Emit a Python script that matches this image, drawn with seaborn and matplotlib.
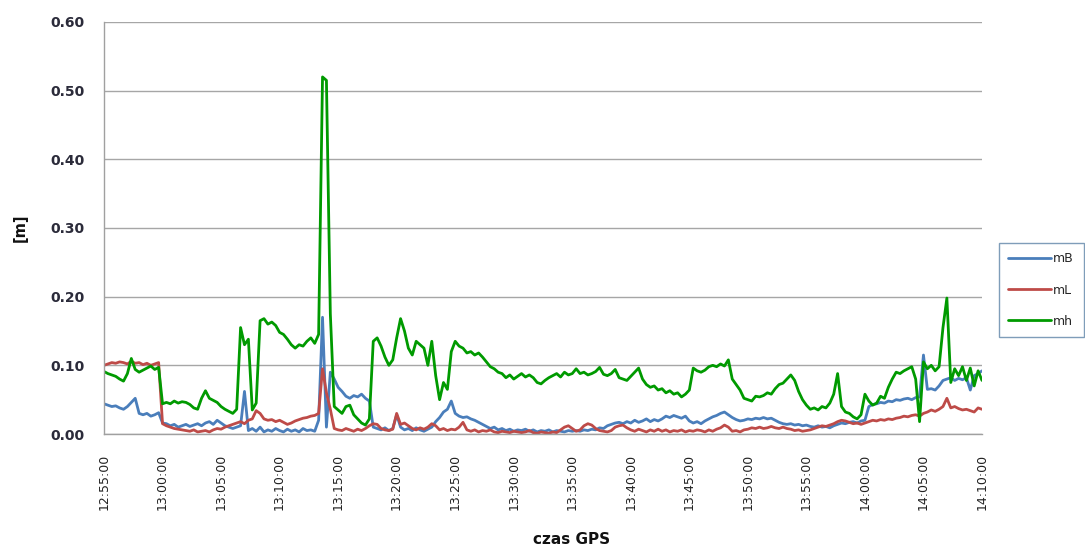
import numpy as np
import pandas as pd
import matplotlib
matplotlib.use("Agg")
import matplotlib.pyplot as plt
import seaborn as sns

# Accuracy estimates [m], one sample every 20 s from 12:55:00 to 14:10:00
mB = [
    0.044, 0.042, 0.040, 0.041, 0.038, 0.036, 0.040, 0.046, 0.052, 0.030, 0.028, 0.030,
    0.026, 0.028, 0.031, 0.016, 0.015, 0.012, 0.014, 0.010, 0.012, 0.014, 0.011, 0.013,
    0.015, 0.012, 0.016, 0.018, 0.014, 0.020, 0.016, 0.012, 0.010, 0.008, 0.010, 0.012,
    0.062, 0.005, 0.008, 0.004, 0.010, 0.003, 0.006, 0.004, 0.008, 0.005, 0.003, 0.007,
    0.004, 0.006, 0.003, 0.008, 0.005, 0.006, 0.004, 0.020, 0.170, 0.010, 0.090, 0.080,
    0.068, 0.062, 0.055, 0.052, 0.056, 0.054, 0.058, 0.052, 0.048, 0.010, 0.008, 0.006,
    0.009, 0.005, 0.008, 0.028, 0.010, 0.006, 0.008, 0.005, 0.009, 0.006, 0.004, 0.007,
    0.010, 0.018, 0.024, 0.032, 0.036, 0.048, 0.030, 0.026, 0.024, 0.025, 0.022, 0.020,
    0.017, 0.014, 0.011, 0.008, 0.010, 0.006, 0.008, 0.005, 0.007, 0.004, 0.006, 0.005,
    0.007, 0.004, 0.006, 0.003, 0.005, 0.004, 0.006, 0.003, 0.005, 0.004, 0.003, 0.005,
    0.004, 0.005, 0.004, 0.006, 0.005, 0.007, 0.006, 0.009, 0.008, 0.012, 0.014, 0.016,
    0.017, 0.015, 0.018, 0.016, 0.020, 0.017, 0.019, 0.022, 0.018, 0.021, 0.019, 0.022,
    0.026, 0.024, 0.027, 0.025, 0.023, 0.026, 0.019, 0.016, 0.018, 0.015, 0.019, 0.022,
    0.025, 0.027, 0.030, 0.032, 0.028, 0.024, 0.021, 0.019, 0.020, 0.022, 0.021, 0.023,
    0.022, 0.024, 0.022, 0.023, 0.020, 0.017, 0.015, 0.014, 0.015, 0.013, 0.014, 0.012,
    0.013, 0.011, 0.010, 0.012, 0.010, 0.011, 0.009, 0.012, 0.014, 0.016, 0.015, 0.017,
    0.018, 0.016, 0.019, 0.020, 0.040, 0.043, 0.044, 0.046, 0.045, 0.048, 0.047, 0.050,
    0.049, 0.051, 0.052, 0.050, 0.053, 0.054, 0.115, 0.065, 0.066, 0.064, 0.070, 0.078,
    0.080, 0.082, 0.078, 0.081, 0.079, 0.082, 0.064, 0.085, 0.088, 0.092,
]

mL = [
    0.100, 0.102, 0.104, 0.103, 0.105, 0.104, 0.102, 0.106, 0.103, 0.104, 0.101, 0.103,
    0.100, 0.102, 0.104, 0.015, 0.012, 0.010, 0.008, 0.007, 0.006, 0.005, 0.004, 0.006,
    0.003, 0.004, 0.005, 0.003, 0.006, 0.008, 0.007, 0.010, 0.012, 0.014, 0.016, 0.018,
    0.015, 0.020, 0.022, 0.034, 0.030, 0.022, 0.020, 0.021, 0.018, 0.020, 0.017, 0.014,
    0.016, 0.019, 0.021, 0.023, 0.024, 0.026, 0.027, 0.030, 0.095, 0.060, 0.036, 0.008,
    0.006, 0.005, 0.008, 0.006, 0.004, 0.007, 0.005, 0.008, 0.012, 0.015, 0.014, 0.008,
    0.006, 0.005, 0.007, 0.030, 0.014, 0.016, 0.012, 0.008, 0.006, 0.009, 0.007, 0.010,
    0.015, 0.012, 0.006, 0.008, 0.005, 0.007, 0.006, 0.010, 0.017, 0.006, 0.004, 0.006,
    0.003, 0.005, 0.004, 0.006, 0.003, 0.002, 0.004, 0.003, 0.002, 0.004, 0.003, 0.002,
    0.003, 0.005, 0.002, 0.001, 0.003, 0.002, 0.001, 0.003, 0.002, 0.006, 0.010, 0.012,
    0.008, 0.004, 0.006, 0.012, 0.015, 0.013, 0.008, 0.005, 0.004, 0.003, 0.005, 0.010,
    0.012, 0.013, 0.009, 0.006, 0.004, 0.007, 0.005, 0.003, 0.006, 0.004, 0.007, 0.004,
    0.006, 0.003, 0.005, 0.004, 0.006, 0.003, 0.005, 0.004, 0.006, 0.005, 0.003, 0.006,
    0.004, 0.007, 0.009, 0.013, 0.010, 0.004, 0.005, 0.003, 0.006, 0.007, 0.009, 0.008,
    0.010, 0.008, 0.009, 0.011, 0.009, 0.008, 0.010, 0.008, 0.007, 0.005, 0.006, 0.004,
    0.005, 0.006, 0.008, 0.010, 0.012, 0.011, 0.013, 0.015, 0.018, 0.020, 0.019, 0.017,
    0.015, 0.016, 0.014, 0.016, 0.018, 0.020, 0.019, 0.021, 0.020, 0.022, 0.021, 0.023,
    0.024, 0.026, 0.025, 0.027, 0.028, 0.026, 0.030, 0.032, 0.035, 0.033, 0.036, 0.040,
    0.052, 0.038, 0.040, 0.037, 0.035, 0.036, 0.034, 0.032, 0.038, 0.036,
]

mh = [
    0.091, 0.088, 0.086, 0.084, 0.080, 0.077, 0.088, 0.110, 0.094, 0.090, 0.093, 0.096,
    0.099, 0.094, 0.097, 0.044, 0.046, 0.044, 0.048, 0.045, 0.047, 0.046, 0.043, 0.038,
    0.036, 0.052, 0.063, 0.052, 0.049, 0.046, 0.040, 0.036, 0.033, 0.030, 0.036, 0.155,
    0.130, 0.138, 0.035, 0.045, 0.165, 0.168, 0.160, 0.163, 0.158, 0.148, 0.145, 0.138,
    0.130, 0.125, 0.130, 0.128, 0.135, 0.140, 0.132, 0.145, 0.520, 0.515, 0.175, 0.040,
    0.035, 0.030, 0.040, 0.042, 0.028, 0.022, 0.016, 0.013, 0.022, 0.135, 0.140, 0.128,
    0.112, 0.100, 0.108, 0.140, 0.168, 0.150, 0.125, 0.115, 0.135, 0.130, 0.125, 0.100,
    0.135, 0.085, 0.050, 0.075, 0.065, 0.120, 0.135, 0.128, 0.125, 0.118, 0.120, 0.115,
    0.118, 0.112, 0.105, 0.098, 0.095, 0.090, 0.088, 0.082, 0.086, 0.080, 0.084, 0.088,
    0.083, 0.086, 0.082, 0.075, 0.073, 0.078, 0.082, 0.085, 0.088, 0.083, 0.090, 0.086,
    0.088, 0.095, 0.088, 0.090, 0.086, 0.088, 0.091, 0.097, 0.087, 0.085, 0.088, 0.094,
    0.082, 0.080, 0.078, 0.084, 0.090, 0.096, 0.080, 0.072, 0.068, 0.070, 0.064, 0.066,
    0.060, 0.063, 0.058, 0.060, 0.054, 0.058, 0.064, 0.096, 0.092, 0.090, 0.093, 0.098,
    0.100, 0.098, 0.102, 0.099, 0.108, 0.080, 0.072, 0.064, 0.052, 0.050, 0.048, 0.055,
    0.054, 0.056, 0.060, 0.058, 0.066, 0.072, 0.074, 0.080, 0.086, 0.078, 0.062, 0.050,
    0.042, 0.036, 0.038, 0.035, 0.040, 0.038, 0.045, 0.058, 0.088, 0.040, 0.032, 0.030,
    0.025, 0.022, 0.028, 0.058, 0.048, 0.042, 0.045, 0.055, 0.052, 0.068, 0.080, 0.090,
    0.088, 0.092, 0.095, 0.098, 0.080, 0.018, 0.105, 0.095, 0.100, 0.092, 0.098, 0.155,
    0.198, 0.075, 0.095, 0.085, 0.098, 0.078, 0.096, 0.070, 0.092, 0.078,
]

series_names = ["mB", "mL", "mh"]
series_colors = ["#4A7EBB", "#BE4B48", "#009A00"]

tick_minutes = list(range(0, 76, 5))
tick_labels = [
    "12:55:00", "13:00:00", "13:05:00", "13:10:00", "13:15:00", "13:20:00",
    "13:25:00", "13:30:00", "13:35:00", "13:40:00", "13:45:00", "13:50:00",
    "13:55:00", "14:00:00", "14:05:00", "14:10:00",
]
y_ticks = [0.0, 0.1, 0.2, 0.3, 0.4, 0.5, 0.6]

# minutes after 12:55:00 (20 s sampling step)
minutes = np.arange(len(mh)) / 3.0

df = pd.DataFrame({
    "t": np.concatenate([minutes] * 3),
    "value": mB + mL + mh,
    "series": np.repeat(series_names, len(minutes)),
})

sns.set_theme(style="white")
plt.rcParams["font.family"] = ["DejaVu Sans"]

W, H = 1085, 550
fig = plt.figure(figsize=(W / 100, H / 100), dpi=100)
ax = fig.add_axes([104 / W, 1 - 434 / H, 878 / W, 412 / H])

sns.lineplot(
    data=df, x="t", y="value", hue="series", hue_order=series_names,
    palette=dict(zip(series_names, series_colors)), estimator=None,
    linewidth=2.0, ax=ax, legend=True,
)

ax.set_xlim(0, 75)
ax.set_ylim(0, 0.6)
ax.set_xticks(tick_minutes)
ax.set_xticklabels(tick_labels, rotation=90, fontsize=9, color="#222222")
ax.set_yticks(y_ticks)
ax.set_yticklabels([f"{v:.2f}" for v in y_ticks], fontsize=10,
                   fontweight="bold", color="#2b2b3a")
ax.tick_params(axis="both", length=0)
ax.tick_params(axis="x", pad=14)
ax.tick_params(axis="y", pad=14)

ax.yaxis.grid(True, color="#A6A6A6", linewidth=1.0)
ax.xaxis.grid(False)
ax.set_axisbelow(True)
for side in ("top", "right"):
    ax.spines[side].set_visible(False)
for side in ("left", "bottom"):
    ax.spines[side].set_color("#A0A0A0")
    ax.spines[side].set_linewidth(1.0)

ax.set_xlabel("")
ax.set_ylabel("")
fig.text(20 / W, 1 - 228 / H, "[m]", rotation=90, fontsize=10.5,
         fontweight="bold", ha="center", va="center", color="#111111")
fig.text(572 / W, 1 - 540 / H, "czas GPS", fontsize=11,
         fontweight="bold", ha="center", va="center", color="#111111")

sns.move_legend(
    ax, "upper left", bbox_to_anchor=(999 / W, 1 - 243 / H),
    bbox_transform=fig.transFigure, title=None, frameon=True,
    fancybox=False, edgecolor="#7F9DB9", fontsize=9,
    handlelength=3.4, handletextpad=0.2, labelspacing=1.45, borderpad=0.75,
    borderaxespad=0.0,
)
leg = ax.get_legend()
leg.get_frame().set_linewidth(1.0)
leg.get_frame().set_alpha(1.0)
for line in leg.get_lines():
    line.set_linewidth(2.0)

fig.savefig("out.png", dpi=100, facecolor="white")
